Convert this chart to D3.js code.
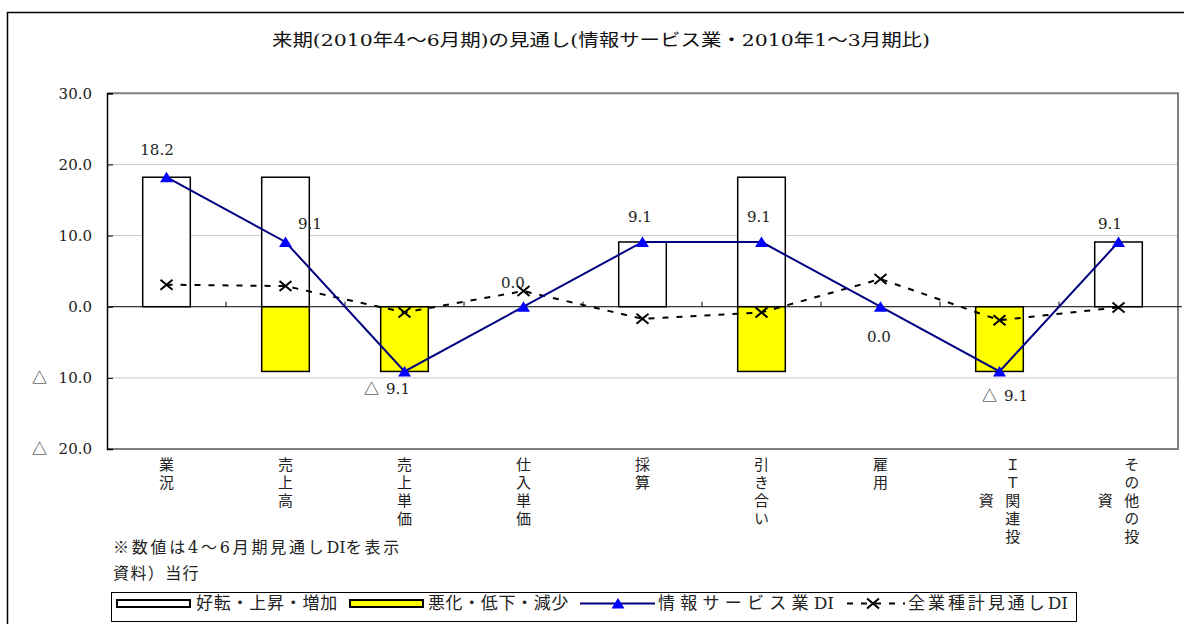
<!DOCTYPE html>
<html>
<head>
<meta charset="utf-8">
<script src="https://cdn.jsdelivr.net/npm/d3@7"></script>
<style>
  html, body { margin: 0; padding: 0; background: #fff; }
  svg { display: block; }
</style>
</head>
<body>
<svg id="chart" width="1184" height="624"></svg>
<script>
// Survey categories (x axis)
const categories = ["業況", "売上高", "売上単価", "仕入単価", "採算", "引き合い", "雇用", "ＩＴ関連投資", "その他の投資"];
// Share answering "improve / rise / increase" (white bars)
const improved = [18.2, 18.2, 0, 0, 9.1, 18.2, 0, 0, 9.1];
// Share answering "worsen / fall / decrease" (yellow bars, negative)
const worsened = [0, -9.1, -9.1, 0, 0, -9.1, 0, -9.1, 0];
// Information-services DI (blue line)
const infoDI = [18.2, 9.1, -9.1, 0.0, 9.1, 9.1, 0.0, -9.1, 9.1];
// All-industry outlook DI (dashed line)
const allDI = [3.1, 2.9, -0.8, 2.2, -1.7, -0.8, 3.9, -1.9, -0.1];
// Y axis ticks
const yTicks = [-20, -10, 0, 10, 20, 30];

// Texts
const titleText = "来期(2010年4～6月期)の見通し(情報サービス業・2010年1～3月期比)";
const noteLines = ["※数値は4～6月期見通しDIを表示", "資料）当行"];
const legendLabels = ["好転・上昇・増加", "悪化・低下・減少", "情報サービス業DI", "全業種計見通しDI"];

// Offsets of the value labels relative to their points (px)
const labelOffsets = [[-9.5, -27], [24.5, -18], [-17.5, 17.5], [-10.5, -24], [-2.5, -25], [-2.5, -25], [-1.5, 30], [5.5, 24.5], [-8.5, -18]];

const serif = "'DejaVu Serif', 'Noto Sans CJK JP', serif";
const jp = "'Noto Sans CJK JP', sans-serif";
const mixed = "'DejaVu Serif', 'Noto Sans CJK JP', serif";

const svg = d3.select("#chart");

// Writes a text made of runs; Latin-letter runs keep tight spacing while the
// other runs are spread so the whole line spans `width` px.
function spacedText(sel, str, x0, yc, width, size) {
  const t = sel.append("text").attr("x", x0).attr("y", yc).attr("dy", "0.35em")
    .style("font-family", mixed).style("font-size", size + "px").attr("fill", "#222");
  const runs = str.match(/[A-Za-z]+|[^A-Za-z]+/g);
  const spans = runs.map(r => t.append("tspan").text(r).datum(/^[A-Za-z]+$/.test(r)));
  const setS = s => spans.forEach(sp => sp.style("letter-spacing", sp.datum() ? "0px" : s + "px"));
  setS(0);
  const w0 = t.node().getComputedTextLength();
  setS(4);
  const w1 = t.node().getComputedTextLength();
  const s = (w1 - w0) > 0 ? 4 * (width - w0) / (w1 - w0) : 0;
  setS(Math.max(0, s));
  return t;
}

// Outer chart frame
svg.append("rect")
  .attr("x", 7.5).attr("y", 12.5).attr("width", 1250).attr("height", 700)
  .attr("fill", "#fff").attr("stroke", "#000").attr("stroke-width", 1.5);

// Title
svg.append("text")
  .attr("x", 272).attr("y", 40).attr("dy", "0.35em")
  .attr("textLength", 658).attr("lengthAdjust", "spacingAndGlyphs")
  .style("font-family", mixed).style("font-size", "17px").attr("fill", "#111")
  .text(titleText);

// Scales
const plot = { left: 107, right: 1178, top: 93.3, bottom: 449 };
const x = d3.scaleBand().domain(categories).range([plot.left, plot.right]).padding(0);
const y = d3.scaleLinear().domain([-20, 30]).range([plot.bottom, plot.top]);
const cx = i => x(categories[i]) + x.bandwidth() / 2;
const barW = x.bandwidth() * 0.40;

const fmt = d3.format(".1f");

// Gridlines
svg.append("g").selectAll("line")
  .data(yTicks.filter(t => t !== 0 && t !== 30 && t !== -20))
  .join("line")
  .attr("x1", plot.left).attr("x2", plot.right)
  .attr("y1", d => y(d)).attr("y2", d => y(d))
  .attr("stroke", "#c8c8c8").attr("stroke-width", 1);

// Plot border (top, right, bottom)
svg.append("path")
  .attr("d", `M${plot.left},${y(30)}H${plot.right}V${y(-20)}H${plot.left}`)
  .attr("fill", "none").attr("stroke", "#808080").attr("stroke-width", 2);

// Y axis
const yAxis = d3.axisLeft(y).tickValues(yTicks).tickSize(-6).tickFormat("");
const yg = svg.append("g").attr("transform", `translate(${plot.left},0)`).call(yAxis);
yg.select(".domain").attr("stroke", "#000").attr("stroke-width", 1.5);
yg.selectAll(".tick line").attr("stroke", "#000");

// Y tick labels (negatives shown with △)
const yl = svg.append("g").style("font-family", serif).style("font-size", "15px").attr("fill", "#222");
yTicks.forEach(t => {
  yl.append("text").attr("x", 92).attr("y", y(t)).attr("dy", "0.35em")
    .attr("text-anchor", "end").text(fmt(Math.abs(t)));
  if (t < 0) {
    yl.append("text").attr("x", 47).attr("y", y(t)).attr("dy", "0.35em")
      .attr("text-anchor", "end").style("font-family", jp).text("△");
  }
});

// Bars
const bars = svg.append("g");
improved.forEach((v, i) => {
  if (v === 0) return;
  bars.append("rect")
    .attr("x", cx(i) - barW / 2).attr("width", barW)
    .attr("y", y(v)).attr("height", y(0) - y(v))
    .attr("fill", "#fff").attr("stroke", "#000").attr("stroke-width", 1.5);
});
worsened.forEach((v, i) => {
  if (v === 0) return;
  bars.append("rect")
    .attr("x", cx(i) - barW / 2).attr("width", barW)
    .attr("y", y(0)).attr("height", y(v) - y(0))
    .attr("fill", "#ffff00").attr("stroke", "#000").attr("stroke-width", 1.5);
});

// Zero line and category tick marks
svg.append("line")
  .attr("x1", plot.left).attr("x2", plot.right + 4)
  .attr("y1", y(0)).attr("y2", y(0))
  .attr("stroke", "#000").attr("stroke-width", 1);
svg.append("g").selectAll("line")
  .data(categories.slice(1))
  .join("line")
  .attr("x1", d => x(d)).attr("x2", d => x(d))
  .attr("y1", y(0)).attr("y2", y(0) - 5)
  .attr("stroke", "#000").attr("stroke-width", 1);

// All-industry DI dashed line with × markers
const line = d3.line().x((d, i) => cx(i)).y(d => y(d));
svg.append("path").datum(allDI)
  .attr("d", line).attr("fill", "none")
  .attr("stroke", "#000").attr("stroke-width", 2).attr("stroke-dasharray", "6,8");
const crossPath = "M-6,-5L6,5M-6,5L6,-5";
svg.append("g").selectAll("path")
  .data(allDI).join("path")
  .attr("transform", (d, i) => `translate(${cx(i)},${y(d)})`)
  .attr("d", crossPath).attr("fill", "none").attr("stroke", "#000").attr("stroke-width", 2);

// Information-services DI line with triangle markers
svg.append("path").datum(infoDI)
  .attr("d", line).attr("fill", "none")
  .attr("stroke", "#000080").attr("stroke-width", 2);
const triPath = "M0,-5.5L6.5,5L-6.5,5Z";
svg.append("g").selectAll("path")
  .data(infoDI).join("path")
  .attr("transform", (d, i) => `translate(${cx(i)},${y(d)})`)
  .attr("d", triPath).attr("fill", "#0000ff");

// Value labels
const lab = svg.append("g").style("font-family", serif).style("font-size", "15px").attr("fill", "#222");
infoDI.forEach((v, i) => {
  const t = lab.append("text")
    .attr("x", cx(i) + labelOffsets[i][0])
    .attr("y", y(v) + labelOffsets[i][1])
    .attr("dy", "0.35em").attr("text-anchor", "middle");
  if (v < 0) {
    t.append("tspan").style("font-family", jp).text("△");
    t.append("tspan").attr("dx", 7).text(fmt(-v));
  } else {
    t.text(fmt(v));
  }
});

// Category labels in vertical writing (columns of up to 5 chars, right to left)
const xl = svg.append("g").style("font-family", jp).style("font-size", "15px").attr("fill", "#222");
const pitch = 18, colGap = 26.5, topY = 457, perCol = 5;
categories.forEach((name, i) => {
  const chars = Array.from(name);
  const cols = d3.range(0, chars.length, perCol).map(s => chars.slice(s, s + perCol).join(""));
  const rows = Array.from(cols[0]).length;
  cols.forEach((col, c) => {
    const colX = cx(i) + (cols.length - 1) / 2 * colGap - c * colGap;
    const shift = (rows - Array.from(col).length) / 2;
    xl.append("text")
      .attr("x", colX).attr("y", topY + shift * pitch)
      .style("writing-mode", "vertical-rl")
      .style("text-orientation", "upright")
      .style("letter-spacing", (pitch - 15) + "px")
      .text(col);
  });
});

// Notes
const notes = svg.append("g");
spacedText(notes, noteLines[0], 113, 547, 289, 16);
spacedText(notes, noteLines[1], 113, 573.5, 87, 16);

// Legend
const lg = svg.append("g");
lg.append("rect").attr("x", 111.5).attr("y", 592.5).attr("width", 965).attr("height", 29)
  .attr("fill", "#fff").attr("stroke", "#000").attr("stroke-width", 1);
const ly = 603.5;
lg.append("rect").attr("x", 117).attr("y", ly - 3.5).attr("width", 73).attr("height", 7)
  .attr("fill", "#fff").attr("stroke", "#000").attr("stroke-width", 2);
lg.append("rect").attr("x", 350).attr("y", ly - 3.5).attr("width", 73).attr("height", 7)
  .attr("fill", "#ffff00").attr("stroke", "#000").attr("stroke-width", 2);
lg.append("line").attr("x1", 580).attr("x2", 655).attr("y1", ly).attr("y2", ly)
  .attr("stroke", "#000080").attr("stroke-width", 2);
lg.append("path").attr("transform", `translate(618,${ly})`).attr("d", triPath).attr("fill", "#0000ff");
lg.append("line").attr("x1", 847).attr("x2", 905).attr("y1", ly).attr("y2", ly)
  .attr("stroke", "#000").attr("stroke-width", 2).attr("stroke-dasharray", "6,8");
lg.append("path").attr("transform", `translate(873,${ly})`).attr("d", crossPath)
  .attr("fill", "none").attr("stroke", "#000").attr("stroke-width", 2);

const legendText = [[196, 142], [428, 141], [658, 176], [908, 160]];
legendLabels.forEach((t, i) => {
  spacedText(lg, t, legendText[i][0], ly, legendText[i][1], 17);
});
</script>
</body>
</html>
